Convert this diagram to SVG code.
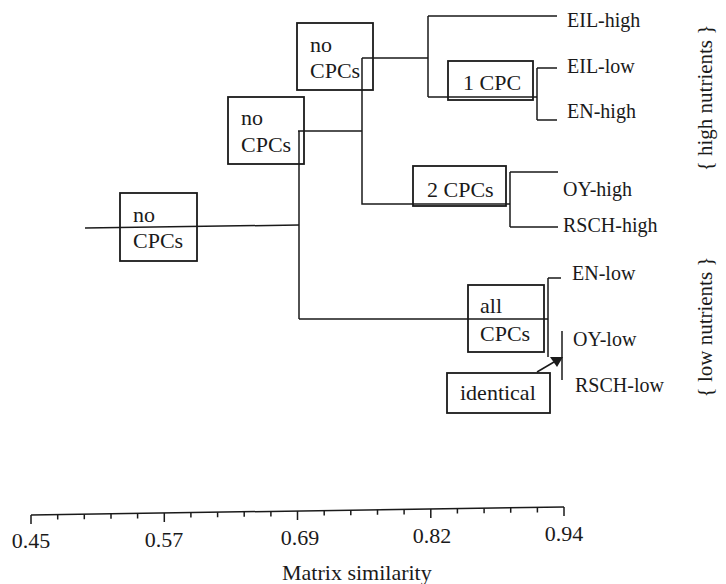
<svg xmlns="http://www.w3.org/2000/svg" width="726" height="584" viewBox="0 0 726 584">
<style>
text{font-family:"Liberation Serif","Times New Roman",serif;fill:#1a1a1a}
.box{fill:none;stroke:#1a1a1a;stroke-width:1.8}
.bt{font-size:22px}
.lf{font-size:20px}
.rt{font-size:21px}
.ax{font-size:22px;text-anchor:middle}
.ln{fill:none;stroke:#1a1a1a;stroke-width:1.5}
</style>
<rect width="726" height="584" fill="#fff"/>
<g id="connectors" class="ln">
<path d="M85,228 L299,225"/>
<path d="M298,131 H362 M299,131 V319"/>
<path d="M362,58 V204 H510"/>
<path d="M362,58 H428 M428,16 V97 M428,16 H557 M428,97 H537 M537,68 V120 M537,68 H557 M537,120 H557"/>
<path d="M510,172 V227 M510,172 H558 M510,227 H558"/>
<path d="M299,319 H548 M548,278 V357 M548,278 H561"/>
<path d="M562,331 V380"/>
<path d="M537,372 L554,362"/>
<polygon points="563,357 550,357 557,367" fill="#1a1a1a" stroke="none"/>
</g>
<g id="node-root"><rect class="box" x="120" y="193" width="77" height="68"/><text class="bt" x="133" y="222">no</text><text class="bt" x="133" y="248">CPCs</text></g>
<g id="node-mid"><rect class="box" x="228" y="97" width="76" height="67"/><text class="bt" x="241" y="125">no</text><text class="bt" x="241" y="152">CPCs</text></g>
<g id="node-top"><rect class="box" x="297" y="23" width="76" height="67"/><text class="bt" x="310" y="52">no</text><text class="bt" x="310" y="78">CPCs</text></g>
<g id="node-1cpc"><rect class="box" x="448" y="61" width="85" height="39"/><text class="bt" x="463" y="90">1 CPC</text></g>
<g id="node-2cpcs"><rect class="box" x="413" y="166" width="93" height="40"/><text class="bt" x="427" y="197">2 CPCs</text></g>
<g id="node-allcpcs"><rect class="box" x="468" y="285" width="76" height="67"/><text class="bt" x="480" y="313">all</text><text class="bt" x="480" y="341">CPCs</text></g>
<g id="node-identical"><rect class="box" x="447" y="373" width="103" height="40"/><text class="bt" x="460" y="400">identical</text></g>
<g id="leaves" class="lf">
<text x="567" y="27">EIL-high</text>
<text x="567" y="73">EIL-low</text>
<text x="567" y="118">EN-high</text>
<text x="563" y="196">OY-high</text>
<text x="563" y="232">RSCH-high</text>
<text x="572" y="280">EN-low</text>
<text x="573" y="346">OY-low</text>
<text x="575" y="392">RSCH-low</text>
</g>
<g id="groups" class="rt" text-anchor="middle">
<text transform="translate(712,98) rotate(-90)">{ high nutrients }</text>
<text transform="translate(712,327) rotate(-90)">{ low nutrients }</text>
</g>
<g id="axis">
<path class="ln" d="M31,515 L564,507"/>
<path class="ln" d="M31,515 v9 M57.7,514.6 v5 M84.3,514.2 v5 M111,513.8 v5 M137.6,513.4 v5 M164.3,513 v9 M190.9,512.6 v5 M217.6,512.2 v5 M244.2,511.8 v5 M270.9,511.4 v5 M297.5,511 v9 M324.2,510.6 v5 M350.8,510.2 v5 M377.5,509.8 v5 M404.1,509.4 v5 M430.8,509 v9 M457.4,508.6 v5 M484.1,508.2 v5 M510.7,507.8 v5 M537.4,507.4 v5 M564,507 v9"/>
<text class="ax" x="31" y="548">0.45</text>
<text class="ax" x="164" y="547">0.57</text>
<text class="ax" x="300" y="545">0.69</text>
<text class="ax" x="432" y="543">0.82</text>
<text class="ax" x="564" y="541">0.94</text>
<text x="282" y="580" style="font-size:22px">Matrix similarity</text>
</g>
</svg>
